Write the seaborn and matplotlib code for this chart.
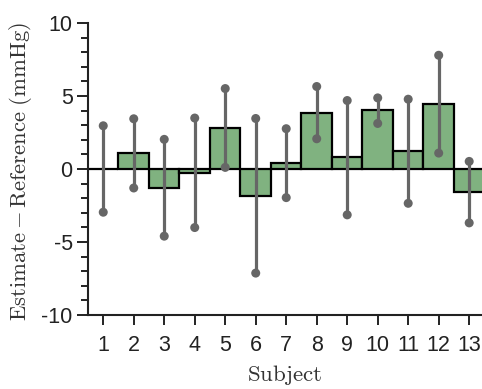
import numpy as np
import pandas as pd
import matplotlib
matplotlib.use("Agg")
import matplotlib.pyplot as plt
import seaborn as sns
from matplotlib.ticker import MultipleLocator

subjects = [1, 2, 3, 4, 5, 6, 7, 8, 9, 10, 11, 12, 13]
bias = [0.0, 1.08, -1.28, -0.24, 2.82, -1.82, 0.41, 3.86, 0.80, 4.03, 1.23, 4.44, -1.59]
upper = [2.96, 3.44, 2.03, 3.49, 5.51, 3.46, 2.76, 5.65, 4.69, 4.87, 4.78, 7.79, 0.52]
lower = [-2.96, -1.30, -4.60, -4.01, 0.11, -7.13, -1.96, 2.07, -3.14, 3.12, -2.35, 1.09, -3.69]
yticks = [-10, -5, 0, 5, 10]

df = pd.DataFrame({"Subject": subjects, "bias": bias, "upper": upper, "lower": lower})

sns.set_theme(style="ticks")
plt.rcParams["font.family"] = ["Liberation Sans", "DejaVu Sans"]
plt.rcParams["mathtext.fontset"] = "cm"

fig = plt.figure(figsize=(4.82, 3.89), dpi=100)
ax = fig.add_axes([88 / 482, 1 - 315 / 389, 1 - 88 / 482, (315 - 23) / 389])

sns.barplot(data=df, x="Subject", y="bias", native_scale=True, width=1.0,
            color="#80b280", saturation=1, edgecolor="black", linewidth=1.6,
            errorbar=None, ax=ax, zorder=2)

ax.vlines(df["Subject"], df["lower"], df["upper"], color="#666666", linewidth=2.3, zorder=3)
sns.scatterplot(x=np.concatenate([df["Subject"], df["Subject"]]),
                y=np.concatenate([df["upper"], df["lower"]]),
                color="#666666", s=42, edgecolor="none", ax=ax, zorder=4)

ax.set_xlim(0.5, 13.42)
ax.set_ylim(-10, 10)
ax.set_xticks(subjects)
ax.set_xticklabels([str(s) for s in subjects])
ax.set_yticks(yticks)
ax.set_yticklabels([str(t) for t in yticks])
ax.yaxis.set_minor_locator(MultipleLocator(1))

for s in ["top", "right"]:
    ax.spines[s].set_visible(False)
for s in ["left", "bottom"]:
    ax.spines[s].set_linewidth(1.5)
    ax.spines[s].set_color("#222222")

ax.tick_params(axis="both", which="major", labelsize=15.5, colors="#222222",
               width=1.4, length=8, direction="out")
ax.tick_params(axis="x", which="major", length=7.5, pad=7)
ax.tick_params(axis="y", which="major", pad=3)
ax.tick_params(axis="y", which="minor", width=1.4, length=5, color="#222222")

ax.set_xlabel(r"$\mathrm{Subject}$", fontsize=16.5, color="#333333", labelpad=5)
ax.set_ylabel(r"$\mathrm{Estimate} - \mathrm{Reference}\ (\mathrm{mmHg})$", fontsize=16.3,
              color="#333333")
ax.yaxis.set_label_coords(-0.137, 0.49)

fig.savefig("out.png", dpi=100)
